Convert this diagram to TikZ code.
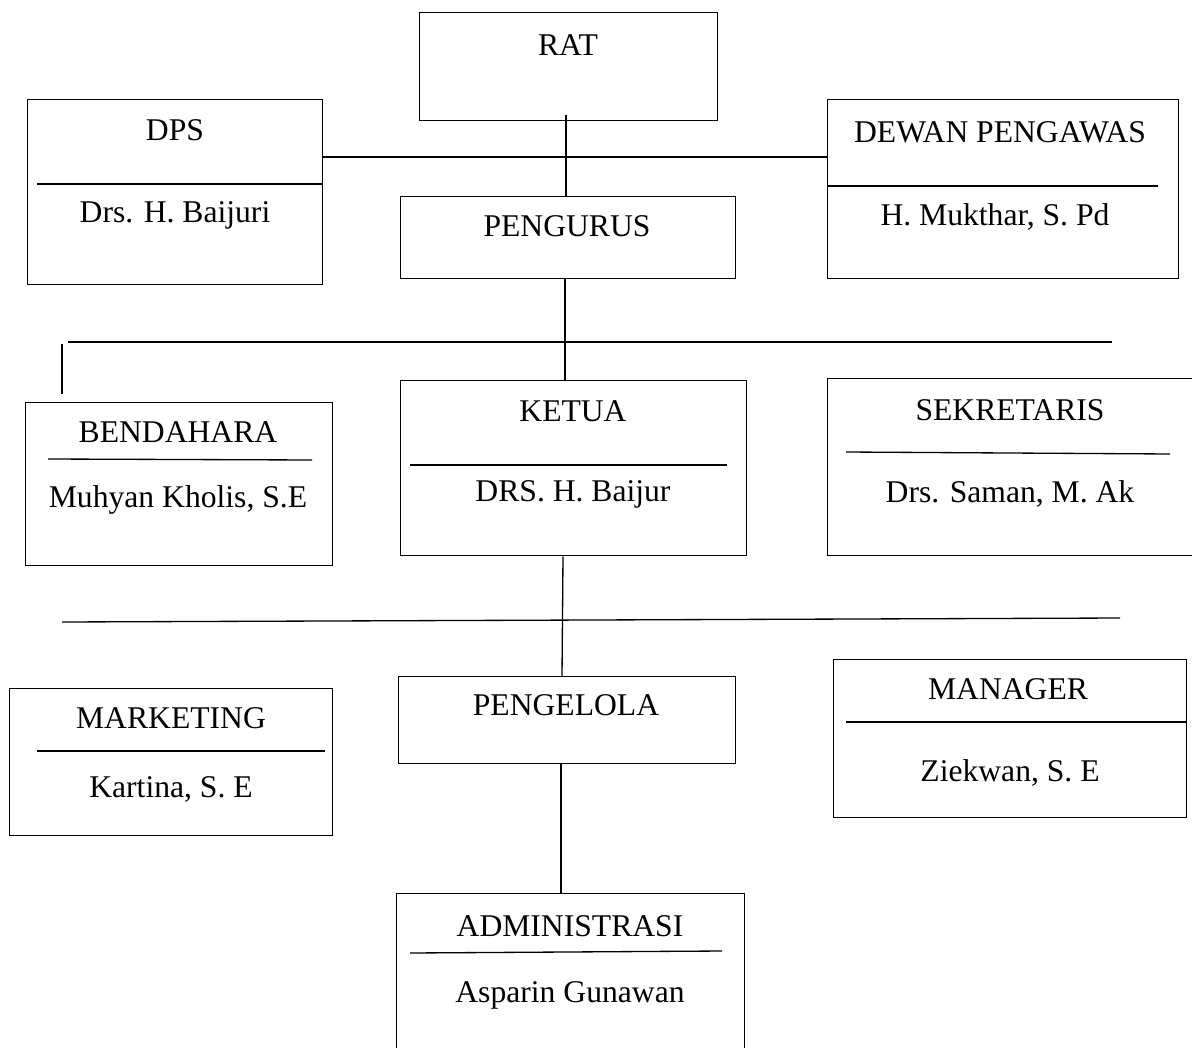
\documentclass[tikz,border=0pt]{standalone}
\usepackage{fontspec}
\setmainfont{Liberation Serif}
\tikzset{
	orgbox/.style={draw, line width=0.75pt, inner sep=0pt, anchor=north west},
	txt/.style={font=\fontsize{18}{22}\selectfont, inner sep=0pt},
	conn/.style={line width=0.75pt},
}
\begin{document}
\begin{tikzpicture}[x=0.02cm,y=-0.02cm]
	\useasboundingbox (0,0) rectangle (1192,1047);
	%BOXES
	\node[orgbox, minimum width=5.96cm, minimum height=2.16cm] (rat) at (419,12) {};
	\node[orgbox, minimum width=5.9cm, minimum height=3.7cm] (dps) at (27,99) {};
	\node[orgbox, minimum width=7.02cm, minimum height=3.58cm] (dewan) at (827,99) {};
	\node[orgbox, minimum width=6.7cm, minimum height=1.64cm] (pengurus) at (400,196) {};
	%
	\node[orgbox, minimum width=6.14cm, minimum height=3.26cm] (bendahara) at (25,402) {};
	\node[orgbox, minimum width=6.92cm, minimum height=3.5cm] (ketua) at (400,380) {};
	\node[orgbox, minimum width=7.4cm, minimum height=3.54cm] (sekretaris) at (827,378) {};
	%
	\node[orgbox, minimum width=6.46cm, minimum height=2.94cm] (marketing) at (9,688) {};
	\node[orgbox, minimum width=6.74cm, minimum height=1.74cm] (pengelola) at (398,676) {};
	\node[orgbox, minimum width=7.06cm, minimum height=3.16cm] (manager) at (833,659) {};
	\node[orgbox, minimum width=6.96cm, minimum height=3.4cm] (admin) at (396,893) {};
	
	%TEXTS
	\node[txt] (tRat) at (568,45) {RAT};
	\node[txt] (tDps) at (175,130) {DPS};
		\node[txt] (nDps) at (175,215) {Drs. H. Baijuri};
	\node[txt] (tDewan) at (1000,132) {DEWAN PENGAWAS};
		\node[txt] (nDewan) at (995,217) {H. Mukthar, S. Pd};
	\node[txt] (tPengurus) at (567,226) {PENGURUS};
	%
	\node[txt] (tBendahara) at (178,432) {BENDAHARA};
		\node[txt] (nBendahara) at (178,500) {Muhyan Kholis, S.E};
	\node[txt] (tKetua) at (573,411) {KETUA};
		\node[txt] (nKetua) at (573,494) {DRS. H. Baijur};
	\node[txt] (tSekretaris) at (1010,410) {SEKRETARIS};
		\node[txt] (nSekretaris) at (1010,494) {Drs. Saman, M. Ak};
	%
	\node[txt] (tMarketing) at (171,718) {MARKETING};
		\node[txt] (nMarketing) at (171,789) {Kartina, S. E};
	\node[txt] (tPengelola) at (566,705) {PENGELOLA};
	\node[txt] (tManager) at (1008,689) {MANAGER};
		\node[txt] (nManager) at (1010,773) {Ziekwan, S. E};
	\node[txt] (tAdmin) at (570,926) {ADMINISTRASI};
		\node[txt] (nAdmin) at (570,995) {Asparin Gunawan};
	
	%DIVIDERS
	\draw[conn] (37,184) -- (322,184);
	\draw[conn] (827,186) -- (1158,186);
	\draw[conn] (48,459) -- (312,460);
	\draw[conn] (410,465) -- (727,465);
	\draw[conn] (846,452) -- (1170,454);
	\draw[conn] (37,751) -- (325,751);
	\draw[conn] (846,722) -- (1186,722);
	\draw[conn] (410,953) -- (722,951);
	
	%CONNECTORS
	\coordinate (hub1) at (566,157);
	\coordinate (bar1w) at (68,342);
	\coordinate (bar1e) at (1112,342);
	\coordinate (stubtop) at (62,344);
	\coordinate (stub) at (62,394);
	\coordinate (bar2w) at (62,622);
	\coordinate (bar2e) at (1120,618);
	\draw[conn] (dps.east |- hub1) -- (dewan.west |- hub1);
	\draw[conn] (566,115) -- (pengurus.north -| 566,0);
	\draw[conn] (pengurus.south -| 565,0) -- (ketua.north -| 565,0);
	\draw[conn, line width=1pt] (bar1w) -- (bar1e);
	\draw[conn] (stubtop) -- (stub);
	\draw[conn] (ketua.south -| 563,0) -- (pengelola.north -| 562,0);
	\draw[conn] (bar2w) -- (bar2e);
	\draw[conn] (pengelola.south -| 561,0) -- (admin.north -| 561,0);
\end{tikzpicture}
\end{document}
